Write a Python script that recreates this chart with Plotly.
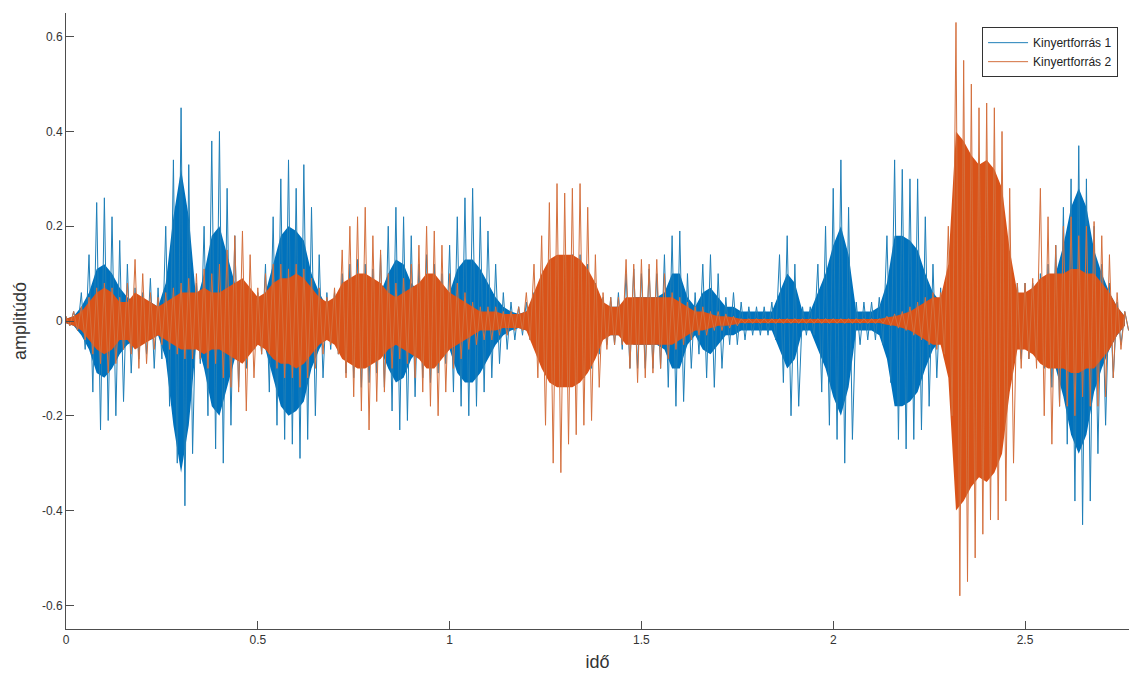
import numpy as np
import plotly.graph_objects as go

# sampling grid of the read envelopes (seconds)
t = np.round(np.arange(0, 2.77, 0.02), 2)

# Kinyertforrás 1 (blue): upper spike envelope, lower spike envelope, dense core half-width
b_up = [0.01, 0.02, 0.06, 0.14, 0.25, 0.26, 0.22, 0.17, 0.12, 0.07,
        0.06, 0.09, 0.07, 0.20, 0.34, 0.45, 0.33, 0.08, 0.20, 0.38,
        0.40, 0.28, 0.18, 0.08, 0.05, 0.06, 0.12, 0.22, 0.30, 0.34,
        0.28, 0.33, 0.24, 0.14, 0.06, 0.06, 0.10, 0.12, 0.13, 0.12,
        0.11, 0.14, 0.20, 0.24, 0.22, 0.18, 0.12, 0.14, 0.12, 0.10,
        0.16, 0.22, 0.26, 0.28, 0.22, 0.19, 0.12, 0.06, 0.04, 0.03,
        0.04, 0.06, 0.08, 0.10, 0.12, 0.12, 0.14, 0.14, 0.12, 0.08,
        0.05, 0.05, 0.06, 0.10, 0.11, 0.10, 0.11, 0.10, 0.14, 0.18,
        0.19, 0.10, 0.06, 0.12, 0.14, 0.10, 0.05, 0.06, 0.04, 0.03,
        0.03, 0.03, 0.04, 0.14, 0.18, 0.12, 0.03, 0.03, 0.12, 0.20,
        0.28, 0.34, 0.24, 0.04, 0.04, 0.04, 0.05, 0.18, 0.34, 0.32,
        0.30, 0.30, 0.22, 0.12, 0.07, 0.10, 0.12, 0.14, 0.14, 0.12,
        0.12, 0.10, 0.10, 0.08, 0.08, 0.08, 0.08, 0.10, 0.12, 0.16,
        0.24, 0.30, 0.37, 0.30, 0.20, 0.12, 0.08, 0.04, 0.02]
b_lo = [-0.01, -0.02, -0.06, -0.15, -0.23, -0.21, -0.20, -0.17, -0.11, -0.08,
        -0.07, -0.10, -0.08, -0.18, -0.30, -0.39, -0.28, -0.09, -0.20, -0.27,
        -0.30, -0.22, -0.14, -0.10, -0.06, -0.07, -0.15, -0.22, -0.25, -0.26,
        -0.29, -0.25, -0.20, -0.12, -0.06, -0.07, -0.11, -0.12, -0.14, -0.13,
        -0.11, -0.14, -0.19, -0.23, -0.21, -0.16, -0.12, -0.13, -0.11, -0.09,
        -0.15, -0.18, -0.20, -0.18, -0.15, -0.12, -0.09, -0.06, -0.04, -0.03,
        -0.04, -0.06, -0.08, -0.10, -0.10, -0.12, -0.12, -0.12, -0.10, -0.07,
        -0.05, -0.05, -0.06, -0.10, -0.10, -0.10, -0.10, -0.10, -0.14, -0.18,
        -0.17, -0.10, -0.07, -0.12, -0.14, -0.10, -0.05, -0.05, -0.04, -0.03,
        -0.03, -0.03, -0.04, -0.13, -0.20, -0.18, -0.03, -0.03, -0.15, -0.22,
        -0.25, -0.30, -0.25, -0.05, -0.04, -0.04, -0.05, -0.13, -0.25, -0.27,
        -0.25, -0.23, -0.18, -0.12, -0.08, -0.10, -0.12, -0.14, -0.14, -0.12,
        -0.12, -0.10, -0.10, -0.08, -0.08, -0.08, -0.08, -0.10, -0.14, -0.18,
        -0.26, -0.38, -0.43, -0.38, -0.28, -0.22, -0.12, -0.05, -0.02]
b_core = [0.005, 0.01, 0.03, 0.06, 0.11, 0.12, 0.10, 0.07, 0.05, 0.04,
          0.03, 0.04, 0.03, 0.08, 0.22, 0.32, 0.22, 0.04, 0.10, 0.18,
          0.20, 0.14, 0.08, 0.04, 0.03, 0.03, 0.06, 0.12, 0.18, 0.20,
          0.19, 0.17, 0.10, 0.06, 0.03, 0.03, 0.05, 0.06, 0.06, 0.06,
          0.05, 0.06, 0.10, 0.13, 0.12, 0.08, 0.06, 0.06, 0.05, 0.04,
          0.06, 0.11, 0.13, 0.13, 0.11, 0.08, 0.05, 0.03, 0.02, 0.015,
          0.02, 0.03, 0.04, 0.05, 0.05, 0.06, 0.06, 0.06, 0.05, 0.04,
          0.03, 0.03, 0.03, 0.04, 0.05, 0.05, 0.05, 0.05, 0.06, 0.10,
          0.10, 0.05, 0.03, 0.06, 0.07, 0.05, 0.03, 0.03, 0.02, 0.02,
          0.02, 0.02, 0.02, 0.06, 0.10, 0.08, 0.02, 0.02, 0.06, 0.10,
          0.16, 0.20, 0.14, 0.02, 0.02, 0.02, 0.03, 0.08, 0.18, 0.18,
          0.17, 0.15, 0.10, 0.06, 0.04, 0.05, 0.06, 0.07, 0.07, 0.06,
          0.06, 0.05, 0.05, 0.04, 0.04, 0.04, 0.04, 0.05, 0.07, 0.10,
          0.16, 0.24, 0.28, 0.24, 0.15, 0.10, 0.06, 0.03, 0.01]

# Kinyertforrás 2 (orange)
o_up = [0.01, 0.02, 0.03, 0.05, 0.07, 0.08, 0.07, 0.05, 0.08, 0.13,
        0.10, 0.06, 0.05, 0.06, 0.07, 0.08, 0.09, 0.10, 0.11, 0.10,
        0.12, 0.15, 0.18, 0.19, 0.14, 0.07, 0.10, 0.12, 0.12, 0.11,
        0.12, 0.11, 0.09, 0.07, 0.05, 0.07, 0.15, 0.20, 0.22, 0.24,
        0.18, 0.15, 0.10, 0.08, 0.09, 0.12, 0.16, 0.20, 0.19, 0.16,
        0.10, 0.08, 0.06, 0.04, 0.03, 0.03, 0.03, 0.02, 0.02, 0.03,
        0.06, 0.12, 0.18, 0.25, 0.29, 0.27, 0.28, 0.29, 0.24, 0.14,
        0.06, 0.05, 0.05, 0.13, 0.12, 0.13, 0.12, 0.13, 0.10, 0.06,
        0.05, 0.04, 0.03, 0.03, 0.02, 0.02, 0.015, 0.01, 0.005, 0.005,
        0.005, 0.005, 0.005, 0.005, 0.005, 0.005, 0.005, 0.005, 0.005, 0.005,
        0.005, 0.005, 0.005, 0.005, 0.005, 0.005, 0.005, 0.01, 0.015, 0.02,
        0.03, 0.04, 0.05, 0.06, 0.06, 0.20, 0.63, 0.55, 0.50, 0.45,
        0.46, 0.45, 0.40, 0.28, 0.08, 0.08, 0.09, 0.28, 0.22, 0.16,
        0.20, 0.22, 0.18, 0.20, 0.21, 0.18, 0.14, 0.06, 0.02]
o_lo = [-0.01, -0.02, -0.04, -0.07, -0.09, -0.11, -0.09, -0.06, -0.07, -0.10,
        -0.09, -0.06, -0.05, -0.06, -0.07, -0.08, -0.08, -0.08, -0.10, -0.09,
        -0.12, -0.14, -0.15, -0.19, -0.12, -0.07, -0.07, -0.10, -0.12, -0.12,
        -0.14, -0.12, -0.10, -0.07, -0.05, -0.07, -0.12, -0.16, -0.19, -0.23,
        -0.17, -0.15, -0.10, -0.08, -0.09, -0.12, -0.15, -0.18, -0.20, -0.15,
        -0.10, -0.08, -0.06, -0.05, -0.04, -0.04, -0.03, -0.03, -0.02, -0.02,
        -0.04, -0.12, -0.22, -0.30, -0.32, -0.26, -0.24, -0.22, -0.21, -0.14,
        -0.06, -0.05, -0.05, -0.10, -0.13, -0.12, -0.11, -0.10, -0.08, -0.06,
        -0.05, -0.04, -0.03, -0.03, -0.02, -0.02, -0.015, -0.01, -0.005, -0.005,
        -0.005, -0.005, -0.005, -0.005, -0.005, -0.005, -0.005, -0.005, -0.005, -0.005,
        -0.005, -0.005, -0.005, -0.005, -0.005, -0.005, -0.005, -0.01, -0.015, -0.02,
        -0.03, -0.04, -0.05, -0.06, -0.07, -0.20, -0.58, -0.55, -0.50, -0.45,
        -0.42, -0.42, -0.38, -0.30, -0.10, -0.08, -0.10, -0.20, -0.26, -0.18,
        -0.18, -0.20, -0.16, -0.18, -0.18, -0.16, -0.12, -0.06, -0.02]
o_core = [0.005, 0.01, 0.02, 0.04, 0.06, 0.07, 0.06, 0.04, 0.04, 0.06,
          0.05, 0.04, 0.03, 0.04, 0.05, 0.06, 0.06, 0.06, 0.07, 0.06,
          0.06, 0.07, 0.08, 0.09, 0.07, 0.05, 0.06, 0.08, 0.09, 0.09,
          0.10, 0.09, 0.07, 0.05, 0.04, 0.05, 0.08, 0.09, 0.10, 0.10,
          0.09, 0.08, 0.06, 0.05, 0.06, 0.07, 0.08, 0.10, 0.10, 0.08,
          0.06, 0.05, 0.04, 0.03, 0.02, 0.02, 0.02, 0.015, 0.015, 0.015,
          0.02, 0.06, 0.10, 0.13, 0.14, 0.14, 0.14, 0.13, 0.11, 0.08,
          0.04, 0.03, 0.03, 0.05, 0.05, 0.05, 0.05, 0.05, 0.05, 0.05,
          0.04, 0.03, 0.02, 0.02, 0.015, 0.01, 0.01, 0.008, 0.004, 0.004,
          0.004, 0.004, 0.004, 0.004, 0.004, 0.004, 0.004, 0.004, 0.004, 0.004,
          0.004, 0.004, 0.004, 0.004, 0.004, 0.004, 0.004, 0.008, 0.01, 0.015,
          0.02, 0.03, 0.04, 0.05, 0.05, 0.12, 0.40, 0.38, 0.35, 0.33,
          0.34, 0.32, 0.28, 0.15, 0.06, 0.06, 0.07, 0.09, 0.10, 0.10,
          0.10, 0.11, 0.11, 0.10, 0.10, 0.08, 0.06, 0.03, 0.01]

series_names = ["Kinyertforrás 1", "Kinyertforrás 2"]
core_colors = ["#0072BD", "#D95319"]
line_colors = ["#1f7fb8", "#d4703e"]

y_ticks = [-0.6, -0.4, -0.2, 0, 0.2, 0.4, 0.6]
y_labels = ["-0.6", "-0.4", "-0.2", "0", "0.2", "0.4", "0.6"]
x_ticks = [0, 0.5, 1, 1.5, 2, 2.5]
x_labels = ["0", "0.5", "1", "1.5", "2", "2.5"]

half = 0.01  # lower peaks sit between successive upper peaks


def zigzag(up, lo):
    xs = np.empty(2 * len(t))
    ys = np.empty(2 * len(t))
    xs[0::2] = t
    xs[1::2] = t + half
    ys[0::2] = up
    ys[1::2] = lo
    return xs, ys


def core_poly(core):
    c = np.array(core)
    xs = np.concatenate([t, t[::-1]])
    ys = np.concatenate([c, -c[::-1]])
    return xs, ys


fig = go.Figure()
for name, ccol, lcol, up, lo, core in [
        (series_names[0], core_colors[0], line_colors[0], b_up, b_lo, b_core),
        (series_names[1], core_colors[1], line_colors[1], o_up, o_lo, o_core)]:
    cx, cy = core_poly(core)
    fig.add_trace(go.Scatter(x=cx, y=cy, fill="toself", fillcolor=ccol, mode="lines",
                             line=dict(width=0, color=ccol), showlegend=False,
                             hoverinfo="skip"))
    zx, zy = zigzag(up, lo)
    fig.add_trace(go.Scatter(x=zx, y=zy, mode="lines", name=name,
                             line=dict(color=lcol, width=1)))

axis_col = "#4d4d4d"
fig.update_layout(
    width=1129, height=679,
    margin=dict(l=66, r=0, t=13, b=50),
    paper_bgcolor="white", plot_bgcolor="white",
    font=dict(family="Liberation Sans, Arial, sans-serif", color="#333333", size=12),
    showlegend=True,
    legend=dict(x=0.9897, y=0.977, xanchor="right", yanchor="top",
                bgcolor="white", bordercolor="#333333", borderwidth=1,
                font=dict(size=12, color="#222222"), tracegroupgap=0,
                itemwidth=40),
    xaxis=dict(range=[0, 2.771], showgrid=False, zeroline=False, showline=True,
               linecolor=axis_col, linewidth=1, ticks="inside", ticklen=8,
               tickcolor=axis_col, tickvals=x_ticks, ticktext=x_labels,
               title=dict(text="idő", font=dict(size=18, color="#333333"), standoff=8)),
    yaxis=dict(range=[-0.65, 0.65], showgrid=False, zeroline=False, showline=True,
               linecolor=axis_col, linewidth=1, ticks="inside", ticklen=8,
               tickcolor=axis_col, tickvals=y_ticks, ticktext=y_labels,
               title=dict(text="amplitúdó", font=dict(size=18, color="#333333"), standoff=10)),
)

fig.write_html("out.html", config={"displayModeBar": False},
               post_script="document.body.style.margin='0';")
